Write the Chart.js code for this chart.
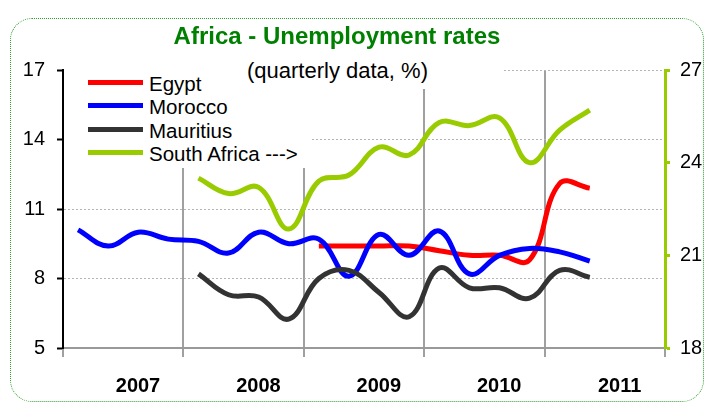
<!DOCTYPE html>
<html>
<head>
<meta charset="utf-8">
<script src="https://cdn.jsdelivr.net/npm/chart.js@4/dist/chart.umd.min.js"></script>
<style>
  body { margin: 0; background: #fff; font-family: "Liberation Sans", Arial, sans-serif; }
  #wrap { position: relative; width: 705px; height: 404px; overflow: hidden; }
  #frame { position: absolute; left: 10px; top: 18px; width: 692px; height: 382px;
           border: 1px dotted #2e9e2e; border-radius: 22px; }
  #box { position: absolute; left: 0; top: 0; width: 705px; height: 404px; }
  #title { position: absolute; left: 0; width: 674px; top: 24px; text-align: center;
           font-size: 24px; line-height: 24px; font-weight: bold; color: #008000; }
  #legend { position: absolute; left: 64px; top: 64px; width: 248px; height: 104px; background: #fff; }
  #subtitle { position: absolute; left: 240px; width: 264px; top: 50px; height: 39px; background: #fff;
              text-align: left; font-size: 22px; line-height: 22px; padding: 10px 0 0 7px;
              box-sizing: border-box; white-space: nowrap; }
  .row { position: absolute; left: 0; height: 23px; font-size: 20.5px; line-height: 23px; white-space: nowrap; }
  .swatch { position: absolute; left: 24px; top: 8px; width: 55px; height: 5px; }
  .name { position: absolute; left: 85px; top: 0; }
</style>
</head>
<body>
<div id="wrap">
  <div id="frame"></div>
  <div id="box"><canvas id="chart"></canvas></div>
  <div id="title">Africa - Unemployment rates</div>
  <div id="legend"></div>
  <div id="subtitle">(quarterly data, %)</div>
</div>
<script>
// quarterly observations, 2007Q1 .. 2011Q2
const quarters = ['2007Q1', '2007Q2', '2007Q3', '2007Q4',
                  '2008Q1', '2008Q2', '2008Q3', '2008Q4',
                  '2009Q1', '2009Q2', '2009Q3', '2009Q4',
                  '2010Q1', '2010Q2', '2010Q3', '2010Q4',
                  '2011Q1', '2011Q2'];
const yearLabels = ['2007', '2008', '2009', '2010', '2011'];

const egypt = [null, null, null, null, null, null, null, null,
               9.4, 9.4, 9.4, 9.4, 9.2, 9.0, 9.0, 8.8, 12.1, 11.9];
const morocco = [10.1, 9.4, 10.0, 9.7, 9.6, 9.1, 10.0, 9.5,
                 9.7, 8.1, 9.9, 9.0, 10.05, 8.2, 9.0, 9.3, 9.15, 8.75];
const mauritius = [null, null, null, null, 8.2, 7.3, 7.2, 6.25,
                   8.0, 8.35, 7.4, 6.35, 8.45, 7.6, 7.6, 7.15, 8.35, 8.05];
// right-hand axis
const southAfrica = [null, null, null, null, 23.5, 23.0, 23.2, 21.85,
                     23.4, 23.6, 24.5, 24.25, 25.3, 25.2, 25.45, 24.0, 25.05, 25.7];

const seriesNames = ['Egypt', 'Morocco', 'Mauritius', 'South Africa --->'];
const seriesColors = ['#ff0000', '#0000ff', '#333333', '#99cc00'];
const seriesAxes = ['y', 'y', 'y', 'y1'];

const allSeries = [egypt, morocco, mauritius, southAfrica];

Chart.defaults.font.family = '"Liberation Sans", Arial, sans-serif';
Chart.defaults.color = '#000';

const datasets = allSeries.map((vals, i) => ({
    label: seriesNames[i],
    data: vals.map((v, j) => ({ x: j + 0.5, y: v })), // point sits mid-quarter
    borderColor: seriesColors[i],
    backgroundColor: seriesColors[i],
    borderWidth: 5,
    pointRadius: 0,
    tension: 0.4,
    fill: false,
    yAxisID: seriesAxes[i],
    order: allSeries.length - 1 - i
}));

// html legend, same look as the excel one
const legendEl = document.getElementById('legend');
seriesNames.forEach((name, i) => {
    const row = document.createElement('div');
    row.className = 'row';
    row.style.top = (8 + i * 23.3) + 'px';
    row.innerHTML = '<span class="swatch" style="background:' + seriesColors[i] + '"></span>' +
                    '<span class="name">' + name + '</span>';
    legendEl.appendChild(row);
});

new Chart(document.getElementById('chart'), {
    type: 'line',
    data: { datasets: datasets },
    options: {
        responsive: true,
        maintainAspectRatio: false,
        animation: false,
        layout: { padding: { top: 70, left: 0, right: 0, bottom: 0 } },
        plugins: { legend: { display: false }, tooltip: { enabled: false } },
        scales: {
            x: {
                type: 'linear',
                min: 0,
                max: yearLabels.length * 4,
                afterFit: s => { s.height = 56; },
                ticks: {
                    stepSize: 4,
                    autoSkip: false,
                    maxRotation: 0,
                    labelOffset: 75,
                    padding: 17,
                    font: { size: 20, weight: 'bold' },
                    callback: v => yearLabels[v / 4] || ''
                },
                grid: { color: '#a0a0a0', lineWidth: 2, tickLength: 9, tickColor: '#a0a0a0' },
                border: { color: '#999', width: 2 }
            },
            y: {
                position: 'left',
                min: 5,
                max: 17,
                afterFit: s => { s.width = 63; },
                ticks: { stepSize: 3, padding: 12, font: { size: 20 } },
                grid: {
                    color: c => c.tick && c.tick.value === 5 ? 'rgba(0,0,0,0)' : '#b4b4b4',
                    lineWidth: 1,
                    tickLength: 6,
                    tickColor: '#000',
                    tickWidth: 2
                },
                border: { color: '#000', width: 2, dash: [2, 2] }
            },
            y1: {
                position: 'right',
                min: 18,
                max: 27,
                afterFit: s => { s.width = 40; },
                ticks: { stepSize: 3, padding: 10, font: { size: 20 } },
                grid: { drawOnChartArea: false, tickLength: 5, tickColor: '#99cc00', tickWidth: 3 },
                border: { color: '#99cc00', width: 3 }
            }
        }
    }
});
</script>
</body>
</html>
